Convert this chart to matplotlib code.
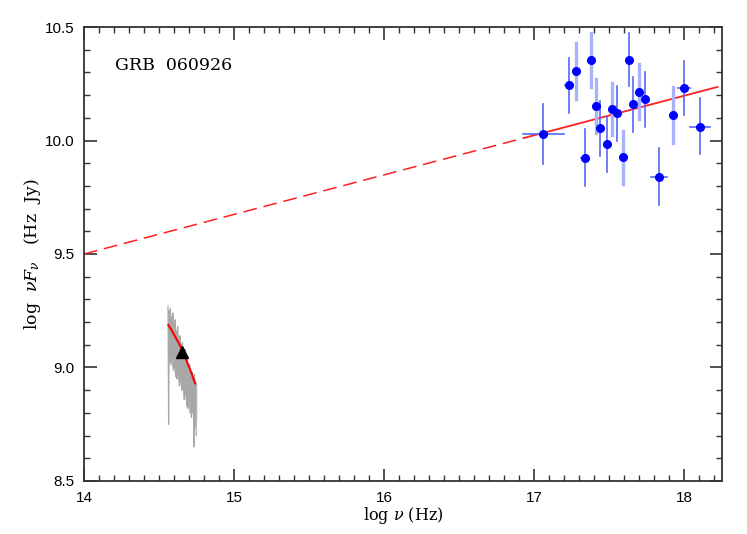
import numpy as np
import matplotlib
matplotlib.use("Agg")
from matplotlib import pyplot as plt
from matplotlib.ticker import MultipleLocator

# X-ray points: log nu, log nuFnu, x half-width, lower / upper error ends
xray_nu = [17.06, 17.231, 17.28, 17.378, 17.409, 17.335, 17.44, 17.482, 17.518, 17.549,
           17.591, 17.629, 17.66, 17.698, 17.738, 17.829, 17.925, 17.995, 18.102]
xray_f = [10.029, 10.243, 10.306, 10.355, 10.152, 9.924, 10.054, 9.985, 10.139, 10.121,
          9.926, 10.356, 10.159, 10.215, 10.183, 9.841, 10.112, 10.233, 10.061]
xray_xerr = [0.135, 0.027, 0.0, 0.0, 0.0, 0.027, 0.0, 0.0, 0.0, 0.0,
             0.0, 0.0, 0.0, 0.0, 0.0, 0.055, 0.02, 0.04, 0.067]
xray_lo = [9.896, 10.120, 10.183, 10.236, 10.033, 9.800, 9.932, 9.861, 10.024, 9.998,
           9.808, 10.240, 10.037, 10.095, 10.059, 9.716, 9.989, 10.112, 9.941]
xray_hi = [10.161, 10.365, 10.430, 10.474, 10.271, 10.051, 10.174, 10.104, 10.253, 10.240,
           10.042, 10.474, 10.280, 10.337, 10.302, 9.967, 10.236, 10.350, 10.187]
xray_light = [False, False, True, True, True, False, False, False, True, False,
              True, False, False, True, False, False, True, False, False]

# power-law extrapolation (dashed) and fit over the X-ray band (solid)
line_nu = [14.0, 16.93]
line_f = [9.50, 10.011]
fit_nu = [16.93, 18.22]
fit_f = [10.011, 10.236]

# optical spectrum
spec_nu = [14.560, 14.564, 14.568, 14.572, 14.576, 14.580, 14.584, 14.588, 14.592, 14.596,
           14.600, 14.604, 14.608, 14.612, 14.616, 14.620, 14.624, 14.628, 14.632, 14.636,
           14.640, 14.644, 14.648, 14.652, 14.656, 14.660, 14.664, 14.668, 14.672, 14.676,
           14.680, 14.684, 14.688, 14.692, 14.696, 14.700, 14.704, 14.708, 14.712, 14.716,
           14.720, 14.724, 14.728, 14.732, 14.736, 14.740, 14.744, 14.748]
spec_f = [9.27, 8.75, 9.25, 9.05, 9.26, 9.02, 9.22, 9.04, 9.24, 8.99,
          9.19, 9.00, 9.21, 8.96, 9.16, 8.95, 9.18, 8.97, 9.12, 8.92,
          9.14, 8.94, 9.10, 8.90, 9.11, 8.91, 9.05, 8.86, 9.08, 8.88,
          9.02, 8.83, 9.04, 8.82, 8.99, 8.85, 9.01, 8.80, 8.96, 8.78,
          8.98, 8.80, 8.94, 8.65, 8.97, 8.74, 8.93, 8.70]
# smoother envelope of the spectrum (light band)
band_nu = [14.560, 14.580, 14.600, 14.620, 14.640, 14.660, 14.680, 14.700, 14.720, 14.740, 14.752]
band_hi = [9.25, 9.23, 9.19, 9.16, 9.12, 9.08, 9.03, 9.00, 8.97, 8.95, 8.93]
band_lo = [9.02, 9.01, 8.98, 8.95, 8.92, 8.89, 8.85, 8.83, 8.80, 8.78, 8.76]
opt_model_nu = [14.562, 14.585, 14.607, 14.631, 14.655, 14.675, 14.695, 14.718, 14.740]
opt_model_f = [9.187, 9.163, 9.136, 9.108, 9.077, 9.045, 9.011, 8.972, 8.930]
opt_point = (14.655, 9.07)

plt.rcParams["mathtext.fontset"] = "dejavuserif"

fig = plt.figure(figsize=(7.47, 5.34), dpi=100)
ax = fig.add_axes([0.1124, 0.0993, 0.8541, 0.8501])

ax.fill_between(band_nu, band_lo, band_hi, color="#c8c8c8", lw=0, zorder=1)
ax.plot(spec_nu, spec_f, color="#a8a8a8", lw=0.9, zorder=1)
ax.plot(opt_model_nu, opt_model_f, color="#ff0000", lw=1.5, zorder=2)
ax.plot(*opt_point, marker="^", color="black", ms=8, zorder=3)

ax.plot(line_nu, line_f, color="#ff2020", lw=1.1, dashes=(9, 4.5), zorder=2)
ax.plot(fit_nu, fit_f, color="#ff2020", lw=1.3, zorder=2)

for i in range(len(xray_nu)):
    if xray_light[i]:
        c, lw = "#aab2fa", 2.4
    else:
        c, lw = "#5868f2", 1.2
    ax.plot([xray_nu[i], xray_nu[i]], [xray_lo[i], xray_hi[i]], color=c, lw=lw, zorder=3)
    if xray_xerr[i] > 0:
        ax.plot([xray_nu[i] - xray_xerr[i], xray_nu[i] + xray_xerr[i]],
                [xray_f[i], xray_f[i]], color="#5868f2", lw=1.2, zorder=3)
ax.plot(xray_nu, xray_f, "o", color="#0000ff", ms=5.5, mec="#0000ff", zorder=4)

ax.set_xlim(14, 18.25)
ax.set_ylim(8.5, 10.5)
ax.xaxis.set_major_locator(MultipleLocator(1))
ax.xaxis.set_minor_locator(MultipleLocator(0.1))
ax.yaxis.set_major_locator(MultipleLocator(0.5))
ax.yaxis.set_minor_locator(MultipleLocator(0.1))
ax.yaxis.set_major_formatter(plt.FormatStrFormatter("%.1f"))
ax.tick_params(which="both", direction="in", top=True, right=True, color="#333333",
               labelsize=11, pad=7)
ax.tick_params(which="major", length=9, width=1.2)
ax.tick_params(which="minor", length=4.5, width=1.0)
for lab in ax.get_xticklabels() + ax.get_yticklabels():
    lab.set_fontfamily("Liberation Sans")
for s in ax.spines.values():
    s.set_linewidth(1.3)
    s.set_color("#333333")

ax.set_xlabel(r"log $\nu$ (Hz)", fontsize=11.5, family="DejaVu Serif", labelpad=0)
ax.set_ylabel(r"log  $\nu F_\nu$   (Hz  Jy)", fontsize=12.5, family="DejaVu Serif", labelpad=1)
ax.text(14.21, 10.33, "GRB  060926", fontsize=12.5, family="DejaVu Serif", va="center")

fig.savefig("out.png", dpi=100)
